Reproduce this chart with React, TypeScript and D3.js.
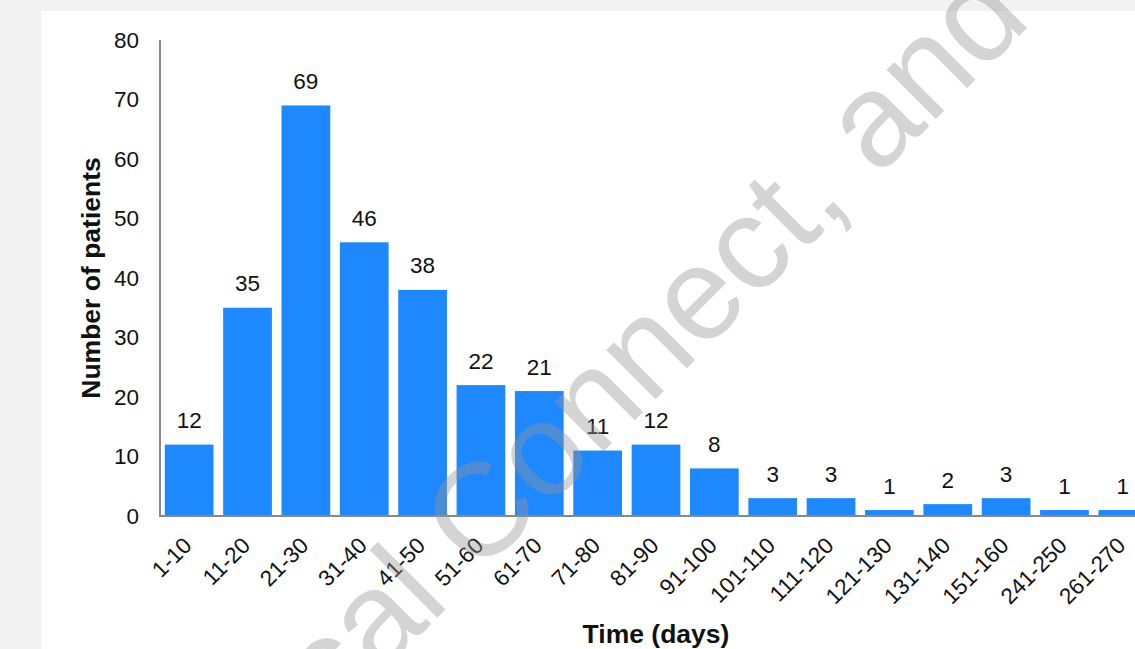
import React from "react";
import * as d3 from "d3";

// Time-to-event histogram: number of patients per 10-day interval
const categories: string[] = [
  "1-10", "11-20", "21-30", "31-40", "41-50", "51-60", "61-70", "71-80",
  "81-90", "91-100", "101-110", "111-120", "121-130", "131-140", "151-160",
  "241-250", "261-270",
];
const patients: number[] = [12, 35, 69, 46, 38, 22, 21, 11, 12, 8, 3, 3, 1, 2, 3, 1, 1];
const yTicks: number[] = [0, 10, 20, 30, 40, 50, 60, 70, 80];

const W = 1135;
const H = 649;
const FONT = "'Liberation Sans', Arial, Helvetica, sans-serif";

export default function App() {
  const x = d3
    .scaleBand<string>()
    .domain(categories)
    .range([160, 1152])
    .paddingInner(0.165)
    .paddingOuter(0.0825);
  const y = d3.scaleLinear().domain([0, 80]).range([516, 40]);
  const bw = x.bandwidth();

  return (
    <svg
      width={W}
      height={H}
      style={{ position: "absolute", left: 0, top: 0, display: "block" }}
      fontFamily={FONT}
    >
      {/* page background and white plotting panel */}
      <rect x={0} y={0} width={W} height={H} fill="#f2f2f2" />
      <rect x={41} y={11} width={W - 41} height={H - 11} fill="#ffffff" />

      {/* bars */}
      {categories.map((c, i) => (
        <rect
          key={c}
          x={x(c)!}
          y={y(patients[i])}
          width={bw}
          height={y(0) - y(patients[i])}
          fill="#1e88ff"
        />
      ))}

      {/* value labels */}
      {categories.map((c, i) => (
        <text
          key={"v" + c}
          x={x(c)! + bw / 2}
          y={y(patients[i]) - 16.5}
          textAnchor="middle"
          fontSize={22.5}
          fill="#111"
        >
          {patients[i]}
        </text>
      ))}

      {/* axes */}
      <line x1={160} x2={160} y1={y(80)} y2={y(0) + 1} stroke="#888" strokeWidth={2} />
      <line x1={159} x2={W} y1={y(0)} y2={y(0)} stroke="#888" strokeWidth={2} />

      {yTicks.map((t) => (
        <text
          key={"y" + t}
          x={139}
          y={y(t)}
          dy="0.35em"
          textAnchor="end"
          fontSize={22.5}
          fill="#111"
        >
          {t}
        </text>
      ))}

      {categories.map((c) => {
        const cx = x(c)! + bw / 2 + 4;
        return (
          <text
            key={"x" + c}
            transform={`translate(${cx},547) rotate(-45)`}
            textAnchor="end"
            fontSize={22.5}
            fill="#111"
          >
            {c}
          </text>
        );
      })}

      {/* axis titles */}
      <text x={656} y={643} textAnchor="middle" fontSize={26.5} fontWeight="bold" fill="#111">
        Time (days)
      </text>
      <text
        transform={`translate(100,${(y(0) + y(80)) / 2}) rotate(-90)`}
        textAnchor="middle"
        fontSize={26.5}
        fontWeight="bold"
        fill="#111"
      >
        Number of patients
      </text>

      {/* publisher watermark */}
      <g transform="translate(478,577) rotate(-45)" fill="#969696" opacity={0.4}>
        <text x={-37} textAnchor="end" fontSize={132}>
          Medical
        </text>
        <text x={0} textAnchor="start" fontSize={132}>
          Connect, and
        </text>
      </g>
    </svg>
  );
}
